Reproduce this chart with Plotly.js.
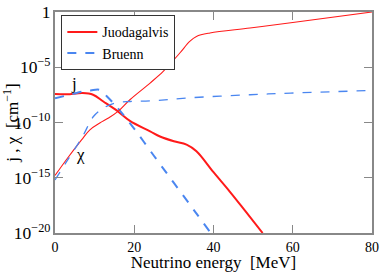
<!DOCTYPE html>
<html><head><meta charset="utf-8">
<script src="https://cdn.plot.ly/plotly-3.0.1.min.js"></script>
</head><body style="margin:0;padding:0;background:#fff"><div id="c" style="width:382px;height:272px"></div>
<script>
// energies [MeV] and log10 of values [cm^-1]
const juoJE = [0, 3, 7, 9.6, 12.2, 15.9, 18.9, 24, 26.5, 30, 33.2, 35.7, 40, 44.1, 48, 52.4];
const juoJ  = [-7.43, -7.45, -7.34, -7.49, -8.1, -9.0, -9.85, -10.8, -11.27, -11.7, -12.0, -12.6, -14.5, -16.25, -18.0, -20.0];
const juoXE = [0, 3, 6.7, 8.8, 11.3, 13.5, 15.9, 18.9, 24, 27.3, 31.5, 34, 35.7, 39.1, 49.2, 60, 80];
const juoX  = [-14.8, -13.3, -11.57, -10.66, -10.05, -9.6, -9.0, -7.94, -6.43, -5.38, -3.71, -2.66, -2.21, -1.9, -1.45, -0.95, 0];
const brJE  = [0, 3, 7.1, 9, 11.3, 13, 15.1, 18.9, 25, 30, 35, 39.3];
const brJ   = [-7.8, -7.55, -7.19, -7.1, -7.05, -7.6, -8.4, -10.05, -13.03, -15.47, -17.9, -20.0];
const brXE  = [0, 3, 6.9, 9.7, 12.2, 15.1, 19, 24, 34.3, 49.2, 59.5, 80];
const brX   = [-15.2, -13.5, -11.3, -9.46, -8.7, -8.24, -8.1, -8.05, -7.76, -7.49, -7.34, -7.1];
const yTickStep = 5;   // decades between y tick labels
const xTickStep = 20;  // MeV between x tick labels

const p = a => a.map(v => Math.pow(10, v));
const red = '#ff1a1a', blue = '#4a86f0';

const traces = [
  {x: juoJE, y: p(juoJ), mode: 'lines', name: 'Juodagalvis', line: {color: red, width: 2, shape: 'spline'}},
  {x: brJE, y: p(brJ), mode: 'lines', name: 'Bruenn', line: {color: blue, width: 2, dash: 'dash', shape: 'spline'}},
  {x: juoXE, y: p(juoX), mode: 'lines', showlegend: false, line: {color: red, width: 1.1, shape: 'spline'}},
  {x: brXE, y: p(brX), mode: 'lines', showlegend: false, line: {color: blue, width: 1.3, dash: 'dash', shape: 'spline'}}
];

const layout = {
  width: 382, height: 272,
  font: {family: 'Liberation Serif', size: 14, color: '#000'},
  margin: {l: 55, r: 10, t: 12, b: 39},
  paper_bgcolor: '#fff', plot_bgcolor: '#fff',
  xaxis: {showgrid: false, zeroline: false, showline: true, mirror: 'ticks', linecolor: '#888', linewidth: 1.5,
    ticks: 'inside', ticklen: 8, tickcolor: '#888', tickwidth: 1.2,
    range: [0, 80], tick0: 0, dtick: xTickStep,
    title: {text: 'Neutrino energy  [MeV]', standoff: 0}},
  yaxis: {showgrid: false, zeroline: false, showline: true, mirror: 'ticks', linecolor: '#888', linewidth: 1.5,
    ticks: 'inside', ticklen: 8, tickcolor: '#888', tickwidth: 1.2,
    type: 'log', range: [-20, 0], dtick: yTickStep, exponentformat: 'power', showexponent: 'all',
    title: {text: 'j , \u03c7  [cm<sup>\u22121</sup>]', standoff: 2}},
  showlegend: true,
  legend: {x: 0.02, y: 0.985, xanchor: 'left', yanchor: 'top', bgcolor: '#fff', bordercolor: '#333', borderwidth: 1,
    itemwidth: 30, tracegroupgap: 0},
  annotations: [
    {x: 4.8, y: -6.5, xref: 'x', yref: 'y', text: 'j', showarrow: false, font: {family: 'Liberation Serif', size: 17, color: '#000'}},
    {x: 6.5, y: -12.9, xref: 'x', yref: 'y', text: '\u03c7', showarrow: false, font: {family: 'Liberation Serif', size: 17, color: '#000'}}
  ]
};
Plotly.newPlot('c', traces, layout, {displayModeBar: false});
</script></body></html>
